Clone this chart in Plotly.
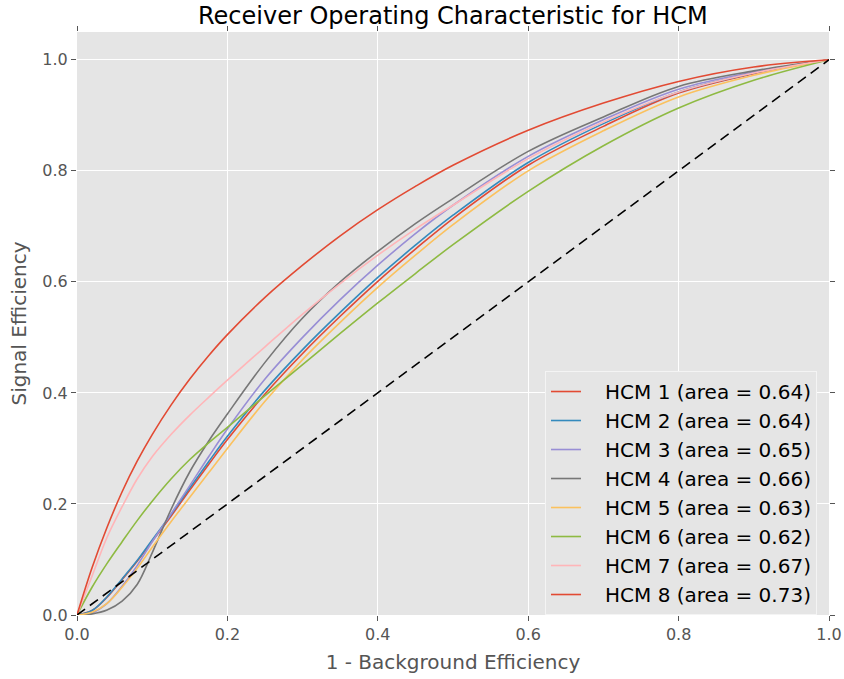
import plotly.graph_objects as go

fpr = [0, 0.02, 0.04, 0.06, 0.08, 0.1, 0.125, 0.15, 0.175, 0.2, 0.25, 0.3,
       0.35, 0.4, 0.45, 0.5, 0.6, 0.7, 0.8, 0.9, 1.0]

hcm1 = [0, 0.008, 0.032, 0.064, 0.097, 0.133, 0.178, 0.225, 0.271, 0.316, 0.398, 0.471,
        0.538, 0.601, 0.659, 0.714, 0.81, 0.88, 0.94, 0.975, 1.0]
hcm2 = [0, 0.008, 0.033, 0.065, 0.098, 0.135, 0.181, 0.229, 0.276, 0.322, 0.405, 0.478,
        0.545, 0.608, 0.666, 0.72, 0.815, 0.885, 0.942, 0.976, 1.0]
hcm3 = [0, 0.004, 0.021, 0.052, 0.089, 0.132, 0.182, 0.233, 0.285, 0.335, 0.425, 0.5,
        0.568, 0.63, 0.687, 0.738, 0.826, 0.892, 0.947, 0.978, 1.0]
hcm4 = [0, 0.002, 0.009, 0.025, 0.055, 0.112, 0.19, 0.258, 0.313, 0.362, 0.455, 0.535,
        0.6, 0.655, 0.705, 0.75, 0.835, 0.897, 0.952, 0.98, 1.0]
hcm5 = [0, 0.005, 0.021, 0.05, 0.084, 0.122, 0.168, 0.212, 0.256, 0.3, 0.385, 0.46,
        0.527, 0.59, 0.648, 0.703, 0.8, 0.872, 0.933, 0.972, 1.0]
hcm6 = [0, 0.05, 0.093, 0.132, 0.17, 0.205, 0.245, 0.28, 0.31, 0.338, 0.395, 0.451,
        0.507, 0.562, 0.615, 0.667, 0.763, 0.845, 0.913, 0.963, 1.0]
hcm7 = [0, 0.07, 0.14, 0.195, 0.245, 0.285, 0.325, 0.36, 0.392, 0.423, 0.483, 0.542,
        0.597, 0.648, 0.695, 0.738, 0.822, 0.888, 0.942, 0.976, 1.0]
hcm8 = [0, 0.085, 0.158, 0.222, 0.277, 0.325, 0.378, 0.425, 0.467, 0.505, 0.572, 0.63,
        0.683, 0.73, 0.772, 0.81, 0.873, 0.922, 0.961, 0.987, 1.0]

series = [hcm1, hcm2, hcm3, hcm4, hcm5, hcm6, hcm7, hcm8]
names = ["HCM 1", "HCM 2", "HCM 3", "HCM 4", "HCM 5", "HCM 6", "HCM 7", "HCM 8"]
areas = [0.64, 0.64, 0.65, 0.66, 0.63, 0.62, 0.67, 0.73]
colors = ["#E24A33", "#348ABD", "#988ED5", "#777777", "#FBC15E", "#8EBA42",
          "#FFB5B8", "#E24A33"]

diag_x = [0, 1]
diag_y = [0, 1]
ticks = [0, 0.2, 0.4, 0.6, 0.8, 1.0]

pad = "\u00a0\u00a0\u00a0"

fig = go.Figure()
for ys, nm, ar, c in zip(series, names, areas, colors):
    fig.add_trace(go.Scatter(
        x=fpr, y=ys, mode="lines", name=f"{pad}{nm} (area = {ar:.2f})",
        line=dict(color=c, width=1.6, shape="spline", smoothing=1.0),
    ))
fig.add_trace(go.Scatter(
    x=diag_x, y=diag_y, mode="lines", showlegend=False,
    line=dict(color="black", width=1.6, dash="10px,6px"),
))

font = "DejaVu Sans"
axis_common = dict(
    showgrid=True, gridcolor="white", gridwidth=1,
    zeroline=False, showline=False, automargin=False,
    ticks="outside", ticklen=5, tickcolor="#555555", tickwidth=1,
    mirror="ticks", tickvals=ticks, tickformat=".1f",
    tickfont=dict(family=font, size=16, color="#555555"),
)
fig.update_xaxes(range=[0, 1], title=dict(text="1 - Background Efficiency",
                 font=dict(family=font, size=20, color="#555555"), standoff=11),
                 **axis_common)
fig.update_yaxes(range=[0, 1.05], title=dict(text="Signal Efficiency",
                 font=dict(family=font, size=20, color="#555555"), standoff=10),
                 **axis_common)

fig.update_layout(
    width=844, height=679,
    margin=dict(l=77, r=15, t=32, b=64),
    paper_bgcolor="white", plot_bgcolor="#E5E5E5",
    title=dict(text="Receiver Operating Characteristic for HCM",
               font=dict(family=font, size=24, color="black"),
               x=0.5366, xanchor="center", y=0.9764, yanchor="middle",
               automargin=False),
    legend=dict(
        x=0.6223, y=0.4185, xanchor="left", yanchor="top",
        bgcolor="#E5E5E5", bordercolor="#F4F4F4", borderwidth=1,
        font=dict(family=font, size=20, color="black"),
        itemwidth=30,
    ),
    showlegend=True,
)

fig.write_html("out.html", config={"displayModeBar": False},
               post_script="document.body.style.margin='0';")
